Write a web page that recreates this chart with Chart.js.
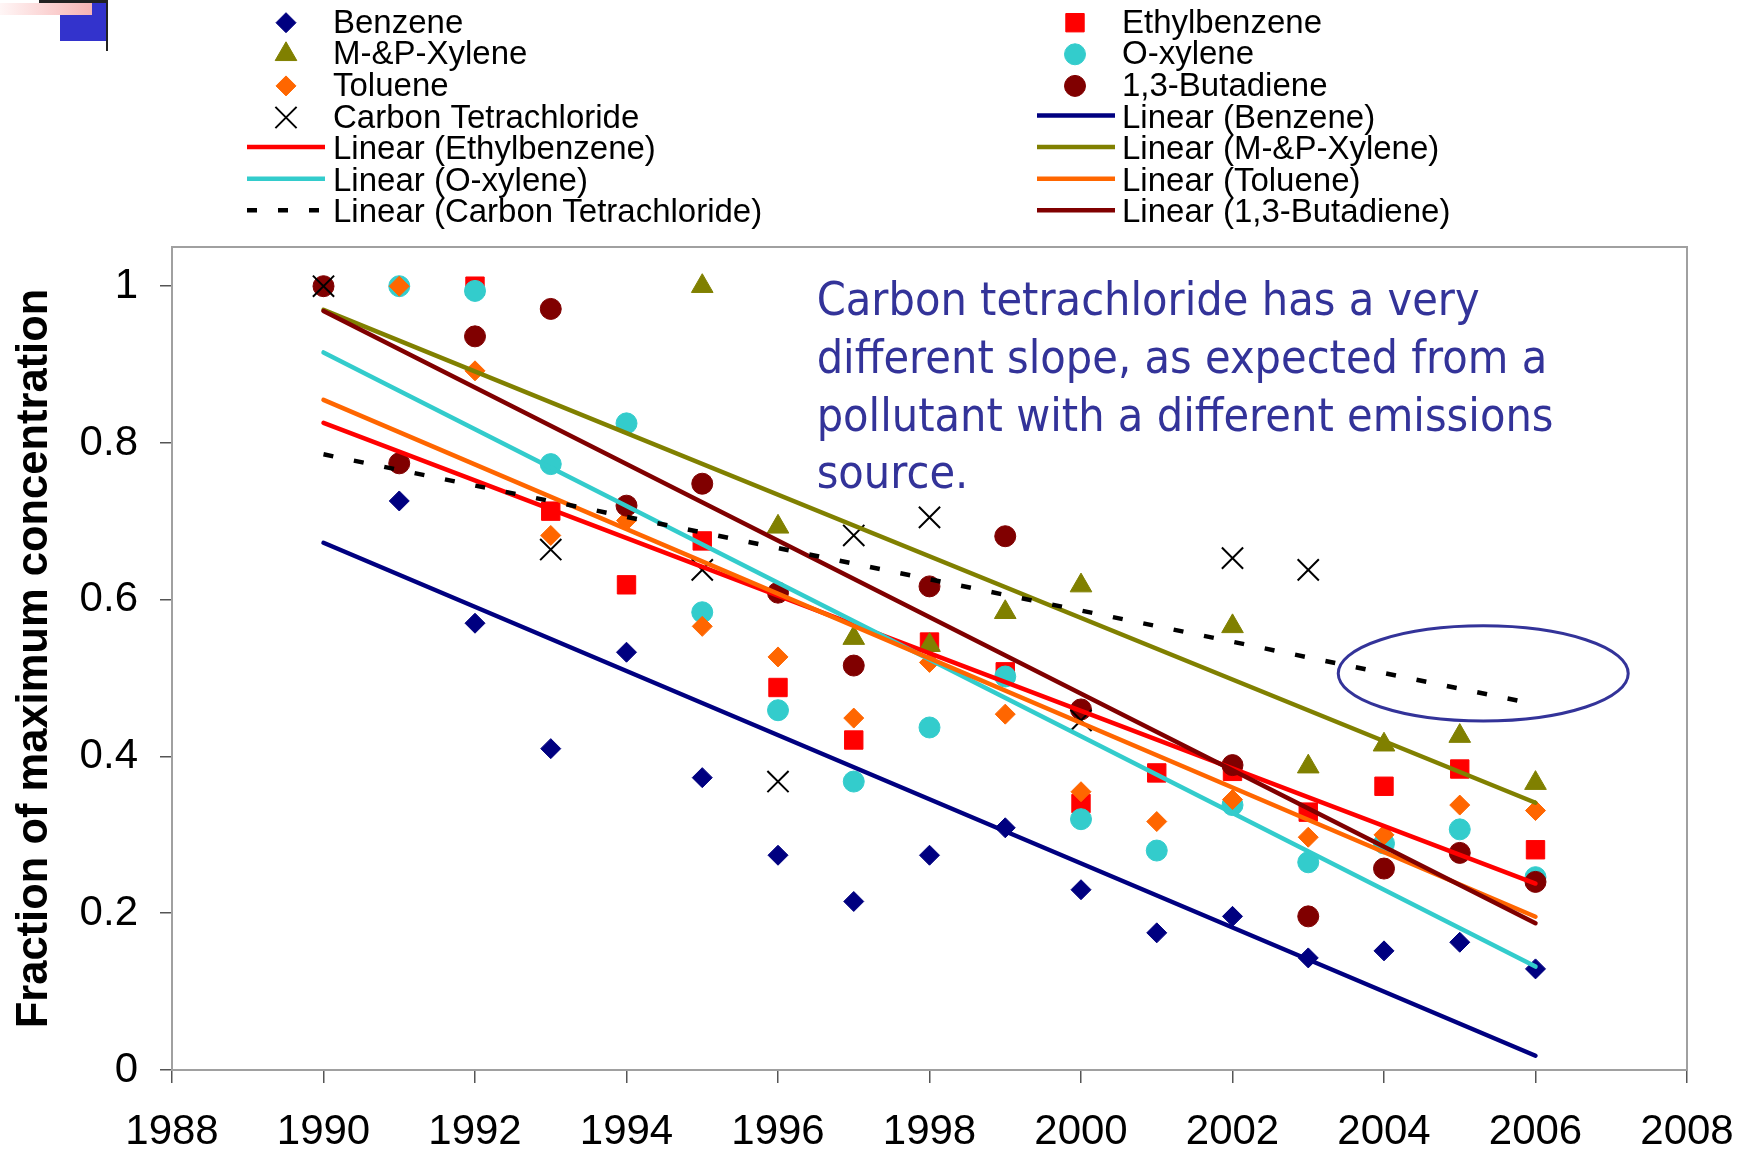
<!DOCTYPE html>
<html lang="en">
<head>
    <meta charset="UTF-8">
    <title>Fraction of maximum concentration, 1990-2006</title>
    <script src="https://cdn.jsdelivr.net/npm/chart.js"></script>
    <style>
        html, body {
            margin: 0;
            padding: 0;
            background: #fff;
        }
        .page {
            position: relative;
            width: 1745px;
            height: 1153px;
            overflow: hidden;
        }
        .chart-box {
            position: absolute;
            left: 0;
            top: 0;
            width: 1745px;
            height: 1153px;
        }
        /* slide corner mark */
        .corner-blue { position: absolute; left: 60px; top: 3px; width: 47px; height: 38px; background: #3333cc; }
        .corner-pink { position: absolute; left: 0; top: 3px; width: 92px; height: 12px; background: linear-gradient(to right, #fff6f6, #f7b4b4); }
        .corner-bar { position: absolute; left: 39px; top: 0; width: 69px; height: 3px; background: #222; }
        .corner-rule { position: absolute; left: 106px; top: 0; width: 2px; height: 51px; background: #222; }
    </style>
</head>
<body>
<div class="page">
    <div class="chart-box"><canvas id="myChart"></canvas></div>
    <div class="corner-blue"></div>
    <div class="corner-pink"></div>
    <div class="corner-bar"></div>
    <div class="corner-rule"></div>
</div>

<script>
    // yearly values, each series scaled to its own maximum (null = no sample)
    const years = [1990, 1991, 1992, 1993, 1994, 1995, 1996, 1997, 1998, 1999, 2000, 2001, 2002, 2003, 2004, 2005, 2006];
    const benzene      = [1.0, 0.726, 0.570, 0.410, 0.533, 0.373, 0.274, 0.215, 0.274, 0.309, 0.230, 0.175, 0.196, 0.143, 0.152, 0.163, 0.129];
    const ethylbenzene = [null, null, 1.0, 0.713, 0.619, 0.675, 0.488, 0.421, 0.546, 0.508, 0.340, 0.379, 0.381, 0.329, 0.362, 0.384, 0.281];
    const mpXylene     = [null, null, null, null, null, 1.0, 0.693, 0.551, 0.542, 0.584, 0.618, null, 0.566, 0.387, 0.415, 0.426, 0.366];
    const oXylene      = [null, 1.0, 0.994, 0.773, 0.825, 0.584, 0.459, 0.368, 0.437, 0.502, 0.320, 0.280, 0.338, 0.265, 0.289, 0.307, 0.246];
    const toluene      = [null, 1.0, 0.892, 0.682, 0.701, 0.566, 0.527, 0.449, 0.520, 0.454, 0.355, 0.317, 0.345, 0.297, 0.300, 0.338, 0.331];
    const butadiene    = [1.0, 0.774, 0.936, 0.971, 0.720, 0.748, 0.609, 0.516, 0.617, 0.681, 0.460, null, 0.389, 0.196, 0.257, 0.277, 0.240];
    const carbonTet    = [1.0, null, null, 0.664, null, 0.638, 0.368, 0.682, 0.705, null, 0.446, null, 0.653, 0.638, null, null, null];

    const seriesNames = ['Benzene', 'Ethylbenzene', 'M-&P-Xylene', 'O-xylene', 'Toluene', '1,3-Butadiene', 'Carbon Tetrachloride'];
    const seriesValues = [benzene, ethylbenzene, mpXylene, oXylene, toluene, butadiene, carbonTet];

    const xTickValues = [1988, 1990, 1992, 1994, 1996, 1998, 2000, 2002, 2004, 2006, 2008];
    const yTickValues = [0, 0.2, 0.4, 0.6, 0.8, 1];

    // trend lines are drawn over this span of years
    const trendFrom = 1990;
    const trendTo = 2006;

    const noteLines = [
        'Carbon tetrachloride has a very',
        'different slope, as expected from a',
        'pollutant with a different emissions',
        'source.'
    ];

    // legend slots, filled two per row (dataset indexes)
    const legendOrder = [0, 1, 2, 3, 4, 5, 6, 7, 8, 9, 10, 11, 13, 12];

    // look of each series
    const seriesColors = ['#000080', '#ff0000', '#808000', '#33cccc', '#ff6600', '#800000', '#000000'];
    const markerStyles = ['rectRot', 'rect', 'triangle', 'circle', 'rectRot', 'circle', 'crossRot'];
    const markerRadius = [10, 13, 12.5, 10.5, 10, 10.5, 15];
    const noteColor = '#333399';

    Chart.defaults.font.family = '"Liberation Sans", Arial, sans-serif';
    Chart.defaults.color = '#000';

    // least squares line through the non-empty points of one series
    function linearFit(values) {
        const pts = [];
        years.forEach((yr, i) => { if (values[i] !== null) pts.push([yr, values[i]]); });
        const n = pts.length;
        const mx = pts.reduce((s, p) => s + p[0], 0) / n;
        const my = pts.reduce((s, p) => s + p[1], 0) / n;
        let sxy = 0, sxx = 0;
        pts.forEach(([x, y]) => { sxy += (x - mx) * (y - my); sxx += (x - mx) * (x - mx); });
        const slope = sxy / sxx;
        return x => my + slope * (x - mx);
    }

    const pointSets = seriesNames.map((name, i) => ({
        label: name,
        data: years.map((yr, k) => seriesValues[i][k] === null ? null : { x: yr, y: seriesValues[i][k] }).filter(Boolean),
        pointStyle: markerStyles[i],
        pointRadius: markerRadius[i],
        backgroundColor: seriesColors[i],
        borderColor: seriesColors[i],
        borderWidth: i === 6 ? 2 : 1,
        showLine: false,
        order: -i
    }));

    const trendSets = seriesNames.map((name, i) => {
        const fit = linearFit(seriesValues[i]);
        return {
            label: 'Linear (' + name + ')',
            data: [{ x: trendFrom, y: fit(trendFrom) }, { x: trendTo, y: fit(trendTo) }],
            showLine: true,
            borderColor: seriesColors[i],
            backgroundColor: seriesColors[i],
            borderWidth: 4.5,
            borderDash: i === 6 ? [10, 21] : [],
            borderCapStyle: i === 6 ? 'butt' : 'round',
            pointRadius: 0,
            order: -(7 + i)
        };
    });

    // gray frame round the plot area
    const plotFrame = {
        id: 'plotFrame',
        beforeDatasetsDraw(chart) {
            const { ctx, chartArea: a } = chart;
            ctx.save();
            ctx.strokeStyle = '#a0a0a0';
            ctx.lineWidth = 2;
            ctx.strokeRect(a.left, a.top, a.right - a.left, a.bottom - a.top);
            ctx.restore();
        }
    };

    // two column legend above the plot, row by row
    const topLegend = {
        id: 'topLegend',
        afterDraw(chart) {
            const ctx = chart.ctx;
            const cols = [
                { marker: 286, lineFrom: 247, lineTo: 325, text: 333 },
                { marker: 1075, lineFrom: 1037, lineTo: 1115, text: 1122 }
            ];
            ctx.save();
            ctx.font = '33px "Liberation Sans", Arial, sans-serif';
            ctx.textBaseline = 'alphabetic';
            ctx.textAlign = 'left';
            legendOrder.forEach((dsIndex, slot) => {
                const ds = chart.data.datasets[dsIndex];
                const col = cols[slot % 2];
                const base = 32.7 + Math.floor(slot / 2) * 31.6;
                if (ds.showLine) {
                    ctx.beginPath();
                    ctx.strokeStyle = ds.borderColor;
                    ctx.lineWidth = ds.borderWidth;
                    ctx.lineCap = 'butt';
                    ctx.setLineDash(ds.borderDash);
                    ctx.moveTo(col.lineFrom, base - 12);
                    ctx.lineTo(col.lineTo, base - 12);
                    ctx.stroke();
                    ctx.setLineDash([]);
                } else {
                    ctx.fillStyle = ds.backgroundColor;
                    ctx.strokeStyle = ds.borderColor;
                    ctx.lineWidth = ds.borderWidth;
                    Chart.helpers.drawPoint(ctx, {
                        pointStyle: ds.pointStyle,
                        radius: ds.pointRadius,
                        rotation: 0,
                        borderWidth: ds.borderWidth
                    }, col.marker, base - 10);
                }
                ctx.fillStyle = '#000';
                ctx.fillText(ds.label, col.text, base);
            });
            ctx.restore();
        }
    };

    // note about carbon tetrachloride and the ring round its trend end
    const noteLayer = {
        id: 'noteLayer',
        afterDraw(chart) {
            const { ctx, scales: { x, y } } = chart;
            ctx.save();
            // ring
            const cx = x.getPixelForValue(2005.31);
            const cy = y.getPixelForValue(0.506);
            const rx = x.getPixelForValue(2005.31 + 1.914) - cx;
            const ry = cy - y.getPixelForValue(0.506 + 0.0607);
            ctx.beginPath();
            ctx.ellipse(cx, cy, rx, ry, 0, 0, Math.PI * 2);
            ctx.strokeStyle = noteColor;
            ctx.lineWidth = 3;
            ctx.stroke();
            // text, narrowed to the width of the first line
            ctx.font = '46px "DejaVu Sans", Verdana, sans-serif';
            ctx.fillStyle = noteColor;
            ctx.textBaseline = 'alphabetic';
            const left = x.getPixelForValue(1996.51);
            const top = y.getPixelForValue(0.963);
            const squeeze = 663 / ctx.measureText(noteLines[0]).width;
            noteLines.forEach((line, i) => {
                ctx.save();
                ctx.translate(left, top + i * 57.7);
                ctx.scale(squeeze, 1);
                ctx.fillText(line, 0, 0);
                ctx.restore();
            });
            ctx.restore();
        }
    };

    const ctx = document.getElementById('myChart').getContext('2d');
    new Chart(ctx, {
        type: 'scatter',
        data: { datasets: pointSets.concat(trendSets) },
        options: {
            responsive: true,
            maintainAspectRatio: false,
            devicePixelRatio: 1,
            animation: false,
            layout: { padding: { top: 247, right: 58, bottom: 0, left: 0 } },
            plugins: {
                legend: { display: false },
                tooltip: { enabled: false }
            },
            scales: {
                x: {
                    type: 'linear',
                    min: 1988,
                    max: 2008,
                    afterBuildTicks: s => { s.ticks = xTickValues.map(v => ({ value: v })); },
                    ticks: { autoSkip: false, maxRotation: 0, font: { size: 42 }, padding: 24, callback: v => String(v) },
                    grid: { drawOnChartArea: false, drawTicks: true, tickLength: 13, color: '#555', lineWidth: 1.5 },
                    border: { display: true, color: '#404040', width: 2 },
                    afterFit: s => { s.height = 83; s.paddingLeft = 0; s.paddingRight = 0; }
                },
                y: {
                    type: 'linear',
                    min: 0,
                    max: 1.05,
                    afterBuildTicks: s => { s.ticks = yTickValues.map(v => ({ value: v })); },
                    ticks: { font: { size: 42 }, padding: 22, callback: v => String(v) },
                    grid: { drawOnChartArea: false, drawTicks: true, tickLength: 12, color: '#555', lineWidth: 1.5 },
                    border: { display: true, color: '#404040', width: 2 },
                    title: {
                        display: true,
                        text: 'Fraction of maximum concentration',
                        font: { size: 43.5, weight: 'bold' },
                        padding: { top: 9, bottom: 0 }
                    },
                    afterFit: s => { s.width = 172; s.paddingTop = 0; s.paddingBottom = 0; }
                }
            }
        },
        plugins: [plotFrame, topLegend, noteLayer]
    });
</script>
</body>
</html>
